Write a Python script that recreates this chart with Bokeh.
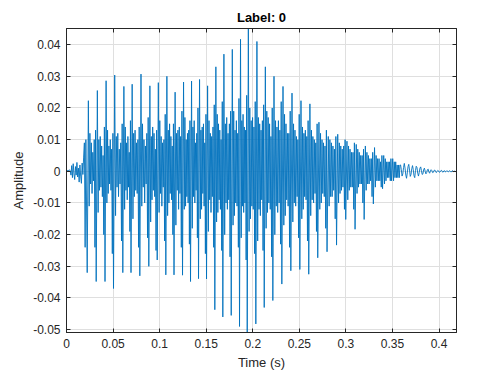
from bokeh.plotting import figure
from bokeh.models import Range1d, FixedTicker, NumeralTickFormatter, LinearAxis
from bokeh.embed import file_html
from bokeh.resources import INLINE

# ---- data (time in s, amplitude) ----
# unvoiced onset, sampled every onset_dt seconds from t = 0
onset_dt = 0.0008
onset_vals = [0.0003, 0.0001, 0.0004, 0.0002, 0.0005, 0.0001, -0.0012, 0.0018,
              -0.0020, 0.0024, -0.0008, -0.0026, 0.0015, -0.0012, 0.0028, -0.0018,
              0.0010, -0.0034, 0.0020, -0.0015, -0.0038, 0.0026, -0.0010, 0.0045,
              0.0090, -0.0240, 0.0100]

# voiced pitch periods: start time (main negative spike), negative and positive spikes
period_start = [0.02223, 0.03189, 0.04134, 0.05047, 0.06046, 0.06927, 0.07872, 0.08838,
                0.09740, 0.10664, 0.11544, 0.12457, 0.13316, 0.14175, 0.15034, 0.15926,
                0.16785, 0.17687, 0.18578, 0.19405, 0.20329, 0.21231, 0.22154, 0.23121,
                0.24087, 0.25054, 0.26010, 0.26976, 0.27975, 0.28994, 0.29983, 0.30982,
                0.31959, 0.32947, 0.33935, 0.34901]
neg_peak = [-0.0320, -0.0348, -0.0348, -0.0370, -0.0320, -0.0320, -0.0330, -0.0300,
            -0.0280, -0.0327, -0.0327, -0.0328, -0.0348, -0.0339, -0.0340, -0.0437,
            -0.0460, -0.0455, -0.0490, -0.0509, -0.0482, -0.0430, -0.0408, -0.0356,
            -0.0314, -0.0310, -0.0325, -0.0273, -0.0254, -0.0233, -0.0152, -0.0183,
            -0.0152, -0.0103, -0.0055, -0.0030]
pos_peak = [0.0223, 0.0255, 0.0286, 0.0304, 0.0268, 0.0275, 0.0307, 0.0270,
            0.0280, 0.0300, 0.0250, 0.0282, 0.0285, 0.0290, 0.0270, 0.0330,
            0.0370, 0.0385, 0.0417, 0.0451, 0.0410, 0.0330, 0.0300, 0.0268,
            0.0247, 0.0223, 0.0213, 0.0155, 0.0110, 0.0117, 0.0095, 0.0085,
            0.0080, 0.0075, 0.0050, 0.0040]
# secondary oscillation within each period (8 values), then lead-in low / high before next spike
period_rest = [
    [-0.011, 0.012, -0.004, 0.009, -0.007, 0.006, -0.003, 0.010, -0.024, 0.013],
    [-0.013, 0.010, -0.006, 0.011, -0.005, 0.008, -0.008, 0.005, -0.020, 0.014],
    [-0.010, 0.013, -0.007, 0.008, -0.004, 0.010, -0.006, 0.007, -0.026, 0.012],
    [-0.014, 0.011, -0.005, 0.012, -0.008, 0.007, -0.004, 0.009, -0.022, 0.015],
    [-0.012, 0.014, -0.006, 0.009, -0.009, 0.011, -0.005, 0.006, -0.019, 0.016],
    [-0.015, 0.012, -0.008, 0.013, -0.006, 0.009, -0.007, 0.010, -0.024, 0.014],
    [-0.011, 0.015, -0.005, 0.010, -0.010, 0.008, -0.004, 0.012, -0.021, 0.017],
    [-0.016, 0.011, -0.009, 0.014, -0.006, 0.012, -0.008, 0.007, -0.025, 0.013],
    [-0.013, 0.016, -0.007, 0.011, -0.011, 0.009, -0.005, 0.010, -0.022, 0.018],
    [-0.014, 0.013, -0.010, 0.015, -0.007, 0.011, -0.009, 0.008, -0.020, 0.015],
    [-0.017, 0.012, -0.006, 0.013, -0.012, 0.014, -0.007, 0.011, -0.024, 0.019],
    [-0.012, 0.017, -0.011, 0.010, -0.008, 0.012, -0.010, 0.013, -0.023, 0.016],
    [-0.018, 0.014, -0.008, 0.016, -0.010, 0.009, -0.006, 0.012, -0.021, 0.020],
    [-0.015, 0.013, -0.012, 0.014, -0.007, 0.015, -0.011, 0.009, -0.026, 0.018],
    [-0.019, 0.016, -0.009, 0.012, -0.013, 0.011, -0.008, 0.014, -0.024, 0.021],
    [-0.016, 0.018, -0.013, 0.015, -0.009, 0.013, -0.012, 0.010, -0.025, 0.022],
    [-0.020, 0.015, -0.010, 0.017, -0.012, 0.012, -0.009, 0.015, -0.027, 0.019],
    [-0.017, 0.019, -0.014, 0.013, -0.010, 0.016, -0.011, 0.012, -0.024, 0.023],
    [-0.021, 0.016, -0.011, 0.018, -0.013, 0.014, -0.010, 0.013, -0.028, 0.024],
    [-0.019, 0.020, -0.015, 0.016, -0.011, 0.017, -0.012, 0.014, -0.026, 0.022],
    [-0.022, 0.017, -0.012, 0.015, -0.014, 0.013, -0.009, 0.016, -0.025, 0.021],
    [-0.018, 0.019, -0.013, 0.017, -0.010, 0.015, -0.012, 0.011, -0.027, 0.020],
    [-0.020, 0.016, -0.011, 0.014, -0.013, 0.016, -0.010, 0.013, -0.023, 0.022],
    [-0.017, 0.018, -0.014, 0.015, -0.009, 0.012, -0.011, 0.012, -0.024, 0.019],
    [-0.016, 0.015, -0.010, 0.013, -0.011, 0.011, -0.008, 0.010, -0.021, 0.018],
    [-0.015, 0.014, -0.012, 0.012, -0.008, 0.013, -0.009, 0.011, -0.022, 0.016],
    [-0.014, 0.013, -0.009, 0.011, -0.010, 0.010, -0.007, 0.009, -0.019, 0.015],
    [-0.012, 0.012, -0.010, 0.010, -0.007, 0.009, -0.008, 0.008, -0.018, 0.013],
    [-0.011, 0.010, -0.008, 0.009, -0.008, 0.008, -0.006, 0.007, -0.015, 0.011],
    [-0.010, 0.009, -0.007, 0.008, -0.006, 0.007, -0.005, 0.008, -0.012, 0.010],
    [-0.009, 0.008, -0.006, 0.007, -0.005, 0.006, -0.005, 0.006, -0.012, 0.009],
    [-0.007, 0.007, -0.005, 0.006, -0.004, 0.005, -0.004, 0.005, -0.010, 0.007],
    [-0.006, 0.006, -0.004, 0.005, -0.004, 0.004, -0.003, 0.004, -0.008, 0.006],
    [-0.005, 0.005, -0.003, 0.004, -0.003, 0.004, -0.003, 0.003, -0.005, 0.005],
    [-0.004, 0.004, -0.003, 0.003, -0.002, 0.003, -0.002, 0.003, -0.003, 0.004],
    [-0.003, 0.003, -0.002, 0.003, -0.002, 0.002, -0.002, 0.002, -0.002, 0.002],
]
# where each vertex of a period sits, as a fraction of the period
vertex_frac = [0.0, 0.13, 0.22, 0.30, 0.38, 0.46, 0.54, 0.62, 0.70, 0.78, 0.86, 0.93]
last_period = 0.0097

# decaying tail after voicing, sampled every tail_dt seconds
tail_dt = 0.0008
tail_vals = [0.0020, 0.0005, -0.0015, -0.0008, 0.0012, 0.0025, 0.0010, -0.0012, -0.0022,
             -0.0005, 0.0015, 0.0022, 0.0004, -0.0016, -0.0010, 0.0008, 0.0018, 0.0006,
             -0.0014, -0.0020, 0.0002, 0.0016, 0.0012, -0.0006, -0.0015, -0.0004, 0.0010,
             0.0014, 0.0002, -0.0010, -0.0008, 0.0006, 0.0010, 0.0000, -0.0008, -0.0004,
             0.0005, 0.0007, -0.0002, -0.0006, 0.0001, 0.0005, 0.0002, -0.0004, -0.0003,
             0.0003, 0.0004, -0.0001, -0.0004, 0.0000, 0.0003, 0.0001, -0.0003, -0.0002,
             0.0002, 0.0003, -0.0001, -0.0003, 0.0001, 0.0002, -0.0002, -0.0001, 0.0002,
             0.0001, -0.0002, 0.0000, 0.0002, -0.0001, -0.0002, 0.0001, 0.0002, -0.0001,
             0.0000, 0.0001, -0.0001, 0.0000]

x_ticks = [0, 0.05, 0.1, 0.15, 0.2, 0.25, 0.3, 0.35, 0.4]
y_ticks = [-0.05, -0.04, -0.03, -0.02, -0.01, 0, 0.01, 0.02, 0.03, 0.04]
t_end = 0.41875

# ---- assemble the waveform ----
t = [i * onset_dt for i in range(len(onset_vals))]
y = list(onset_vals)
for k, start in enumerate(period_start):
    per = (period_start[k + 1] - start) if k + 1 < len(period_start) else last_period
    vals = [neg_peak[k], pos_peak[k]] + period_rest[k]
    for f, v in zip(vertex_frac, vals):
        t.append(start + f * per)
        y.append(v)
tail_start = period_start[-1] + last_period
for i, v in enumerate(tail_vals):
    tt = tail_start + i * tail_dt
    if tt <= t_end:
        t.append(tt)
        y.append(v)

# ---- figure ----
FONT = "Liberation Sans"
TXT = "#262626"
p = figure(width=504, height=378, output_backend="svg", toolbar_location=None,
           x_range=Range1d(0, t_end), y_range=Range1d(-0.0509, 0.0451),
           min_border_left=66, min_border_right=48, min_border_top=28, min_border_bottom=46,
           background_fill_color="white", border_fill_color="white")
p.outline_line_color = TXT
p.outline_line_width = 1

p.title.text = "Label: 0"
p.title.align = "center"
p.title.text_font = FONT
p.title.text_font_size = "13px"
p.title.text_font_style = "bold"
p.title.text_color = "#000000"
p.title.standoff = 7

p.line(t, y, line_color="#0072BD", line_width=0.9)

xt = FixedTicker(ticks=x_ticks)
yt = FixedTicker(ticks=y_ticks)
fmt = NumeralTickFormatter(format="0.[00]")

for ax in p.xaxis:
    ax.ticker = xt
    ax.axis_label = "Time (s)"
for ax in p.yaxis:
    ax.ticker = yt
    ax.axis_label = "Amplitude"
for ax in list(p.xaxis) + list(p.yaxis):
    ax.formatter = fmt
    ax.major_label_text_font = FONT
    ax.major_label_text_font_size = "12px"
    ax.major_label_text_color = TXT
    ax.axis_label_text_font = FONT
    ax.axis_label_text_font_size = "13px"
    ax.axis_label_text_font_style = "normal"
    ax.axis_label_text_color = TXT
    ax.axis_line_color = TXT
    ax.major_tick_line_color = TXT
    ax.major_tick_in = 4
    ax.major_tick_out = 0
    ax.minor_tick_line_color = None
    ax.major_label_standoff = 6
    ax.axis_label_standoff = 4

# box ticks on the top and right edges (no labels)
for loc, tk in (("above", xt), ("right", yt)):
    ax = LinearAxis(ticker=tk, major_label_text_font_size="0px", major_label_text_color=None,
                    major_label_standoff=0, axis_line_color=TXT, major_tick_line_color=TXT,
                    major_tick_in=4, major_tick_out=0, minor_tick_line_color=None)
    p.add_layout(ax, loc)

p.xgrid.ticker = xt
p.ygrid.ticker = yt
p.grid.grid_line_color = "#dfdfdf"
p.grid.grid_line_width = 1

open("out.html", "w").write(file_html(p, INLINE))
